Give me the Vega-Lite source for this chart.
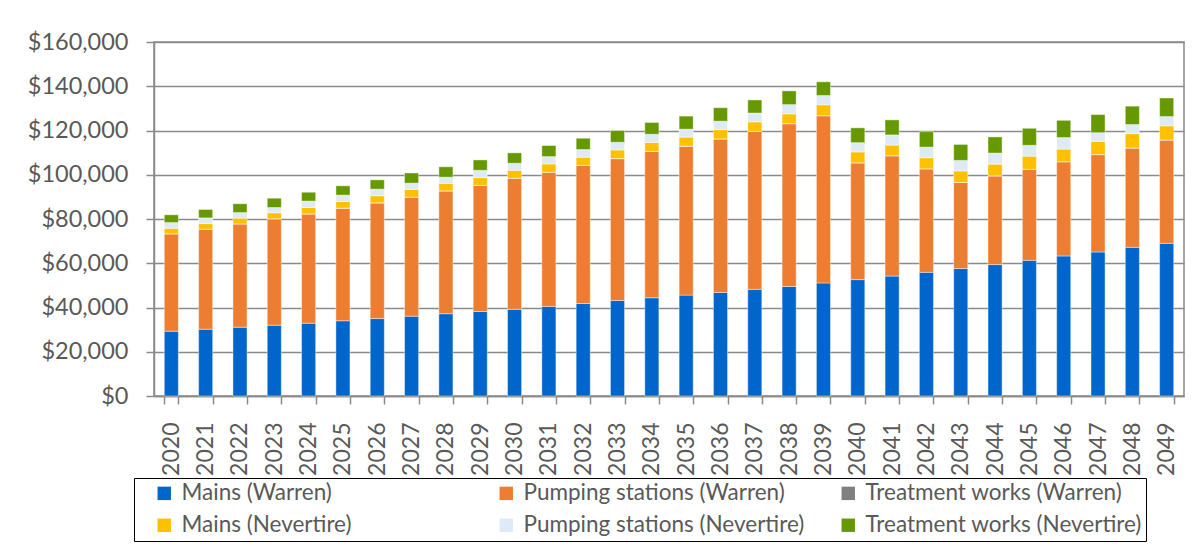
{
  "$schema": "https://vega.github.io/schema/vega-lite/v6.json",
  "width": 1030,
  "height": 354,
  "autosize": {"type": "none"},
  "padding": {"left": 154, "top": 42, "right": 16, "bottom": 150},
  "background": "white",
  "config": {
    "view": {"stroke": "#8a8a8a", "strokeWidth": 1.5},
    "font": "Lato"
  },
  "data": {
    "values": [
      {"year": "2020", "Mains (Warren)": 29300, "Pumping stations (Warren)": 44000, "Treatment works (Warren)": 0, "Mains (Nevertire)": 2500, "Pumping stations (Nevertire)": 2600, "Treatment works (Nevertire)": 3500},
      {"year": "2021", "Mains (Warren)": 30200, "Pumping stations (Warren)": 45200, "Treatment works (Warren)": 0, "Mains (Nevertire)": 2500, "Pumping stations (Nevertire)": 2600, "Treatment works (Nevertire)": 3800},
      {"year": "2022", "Mains (Warren)": 31100, "Pumping stations (Warren)": 46700, "Treatment works (Warren)": 0, "Mains (Nevertire)": 2600, "Pumping stations (Nevertire)": 2500, "Treatment works (Nevertire)": 4000},
      {"year": "2023", "Mains (Warren)": 32000, "Pumping stations (Warren)": 48100, "Treatment works (Warren)": 0, "Mains (Nevertire)": 2700, "Pumping stations (Nevertire)": 2400, "Treatment works (Nevertire)": 4200},
      {"year": "2024", "Mains (Warren)": 32900, "Pumping stations (Warren)": 49400, "Treatment works (Warren)": 0, "Mains (Nevertire)": 2900, "Pumping stations (Nevertire)": 2900, "Treatment works (Nevertire)": 4000},
      {"year": "2025", "Mains (Warren)": 34000, "Pumping stations (Warren)": 50900, "Treatment works (Warren)": 0, "Mains (Nevertire)": 3000, "Pumping stations (Nevertire)": 2900, "Treatment works (Nevertire)": 4200},
      {"year": "2026", "Mains (Warren)": 35000, "Pumping stations (Warren)": 52300, "Treatment works (Warren)": 0, "Mains (Nevertire)": 3200, "Pumping stations (Nevertire)": 3000, "Treatment works (Nevertire)": 4200},
      {"year": "2027", "Mains (Warren)": 36100, "Pumping stations (Warren)": 53800, "Treatment works (Warren)": 0, "Mains (Nevertire)": 3500, "Pumping stations (Nevertire)": 2800, "Treatment works (Nevertire)": 4600},
      {"year": "2028", "Mains (Warren)": 37200, "Pumping stations (Warren)": 55500, "Treatment works (Warren)": 0, "Mains (Nevertire)": 3400, "Pumping stations (Nevertire)": 2800, "Treatment works (Nevertire)": 4700},
      {"year": "2029", "Mains (Warren)": 38200, "Pumping stations (Warren)": 57000, "Treatment works (Warren)": 0, "Mains (Nevertire)": 3500, "Pumping stations (Nevertire)": 3300, "Treatment works (Nevertire)": 4700},
      {"year": "2030", "Mains (Warren)": 39200, "Pumping stations (Warren)": 59200, "Treatment works (Warren)": 0, "Mains (Nevertire)": 3600, "Pumping stations (Nevertire)": 3200, "Treatment works (Nevertire)": 4700},
      {"year": "2031", "Mains (Warren)": 40500, "Pumping stations (Warren)": 60600, "Treatment works (Warren)": 0, "Mains (Nevertire)": 3800, "Pumping stations (Nevertire)": 3300, "Treatment works (Nevertire)": 5000},
      {"year": "2032", "Mains (Warren)": 41800, "Pumping stations (Warren)": 62500, "Treatment works (Warren)": 0, "Mains (Nevertire)": 3600, "Pumping stations (Nevertire)": 3500, "Treatment works (Nevertire)": 5100},
      {"year": "2033", "Mains (Warren)": 43200, "Pumping stations (Warren)": 64100, "Treatment works (Warren)": 0, "Mains (Nevertire)": 3900, "Pumping stations (Nevertire)": 3500, "Treatment works (Nevertire)": 5300},
      {"year": "2034", "Mains (Warren)": 44400, "Pumping stations (Warren)": 66200, "Treatment works (Warren)": 0, "Mains (Nevertire)": 4000, "Pumping stations (Nevertire)": 3700, "Treatment works (Nevertire)": 5300},
      {"year": "2035", "Mains (Warren)": 45600, "Pumping stations (Warren)": 67300, "Treatment works (Warren)": 0, "Mains (Nevertire)": 4100, "Pumping stations (Nevertire)": 3600, "Treatment works (Nevertire)": 5900},
      {"year": "2036", "Mains (Warren)": 46800, "Pumping stations (Warren)": 69400, "Treatment works (Warren)": 0, "Mains (Nevertire)": 4200, "Pumping stations (Nevertire)": 3800, "Treatment works (Nevertire)": 6100},
      {"year": "2037", "Mains (Warren)": 48200, "Pumping stations (Warren)": 71400, "Treatment works (Warren)": 0, "Mains (Nevertire)": 4300, "Pumping stations (Nevertire)": 4000, "Treatment works (Nevertire)": 5900},
      {"year": "2038", "Mains (Warren)": 49500, "Pumping stations (Warren)": 73600, "Treatment works (Warren)": 0, "Mains (Nevertire)": 4400, "Pumping stations (Nevertire)": 4200, "Treatment works (Nevertire)": 6200},
      {"year": "2039", "Mains (Warren)": 51100, "Pumping stations (Warren)": 75600, "Treatment works (Warren)": 0, "Mains (Nevertire)": 4900, "Pumping stations (Nevertire)": 4200, "Treatment works (Nevertire)": 6200},
      {"year": "2040", "Mains (Warren)": 52600, "Pumping stations (Warren)": 52800, "Treatment works (Warren)": 0, "Mains (Nevertire)": 4900, "Pumping stations (Nevertire)": 4200, "Treatment works (Nevertire)": 6700},
      {"year": "2041", "Mains (Warren)": 54200, "Pumping stations (Warren)": 54400, "Treatment works (Warren)": 0, "Mains (Nevertire)": 4800, "Pumping stations (Nevertire)": 4600, "Treatment works (Nevertire)": 6800},
      {"year": "2042", "Mains (Warren)": 55900, "Pumping stations (Warren)": 46800, "Treatment works (Warren)": 0, "Mains (Nevertire)": 5000, "Pumping stations (Nevertire)": 4800, "Treatment works (Nevertire)": 7000},
      {"year": "2043", "Mains (Warren)": 57600, "Pumping stations (Warren)": 38900, "Treatment works (Warren)": 0, "Mains (Nevertire)": 5200, "Pumping stations (Nevertire)": 4800, "Treatment works (Nevertire)": 7200},
      {"year": "2044", "Mains (Warren)": 59400, "Pumping stations (Warren)": 40100, "Treatment works (Warren)": 0, "Mains (Nevertire)": 5300, "Pumping stations (Nevertire)": 5000, "Treatment works (Nevertire)": 7300},
      {"year": "2045", "Mains (Warren)": 61300, "Pumping stations (Warren)": 41200, "Treatment works (Warren)": 0, "Mains (Nevertire)": 5900, "Pumping stations (Nevertire)": 4900, "Treatment works (Nevertire)": 7700},
      {"year": "2046", "Mains (Warren)": 63300, "Pumping stations (Warren)": 42600, "Treatment works (Warren)": 0, "Mains (Nevertire)": 5700, "Pumping stations (Nevertire)": 5200, "Treatment works (Nevertire)": 7800},
      {"year": "2047", "Mains (Warren)": 65100, "Pumping stations (Warren)": 44000, "Treatment works (Warren)": 0, "Mains (Nevertire)": 6000, "Pumping stations (Nevertire)": 3900, "Treatment works (Nevertire)": 8200},
      {"year": "2048", "Mains (Warren)": 67200, "Pumping stations (Warren)": 44900, "Treatment works (Warren)": 0, "Mains (Nevertire)": 6500, "Pumping stations (Nevertire)": 4100, "Treatment works (Nevertire)": 8300},
      {"year": "2049", "Mains (Warren)": 69000, "Pumping stations (Warren)": 46700, "Treatment works (Warren)": 0, "Mains (Nevertire)": 6400, "Pumping stations (Nevertire)": 4200, "Treatment works (Nevertire)": 8400}
    ]
  },
  "transform": [
    {"fold": ["Mains (Warren)", "Pumping stations (Warren)", "Treatment works (Warren)", "Mains (Nevertire)", "Pumping stations (Nevertire)", "Treatment works (Nevertire)"], "as": ["series", "cost"]},
    {"calculate": "indexof(['Mains (Warren)', 'Pumping stations (Warren)', 'Treatment works (Warren)', 'Mains (Nevertire)', 'Pumping stations (Nevertire)', 'Treatment works (Nevertire)'], datum.series)", "as": "stackOrder"}
  ],
  "mark": {"type": "bar", "stroke": "#ffffff", "strokeWidth": 0.6, "strokeOpacity": 0.7},
  "encoding": {
    "x": {
      "field": "year",
      "type": "ordinal",
      "scale": {"paddingInner": 0.59, "paddingOuter": 0.3},
      "axis": {
        "title": null,
        "labelAngle": -90,
        "labelFont": "Lato",
        "labelFontSize": 23,
        "labelColor": "#595959",
        "labelPadding": 18,
        "tickBand": "extent",
        "tickSize": 8,
        "tickColor": "#8a8a8a",
        "tickWidth": 1.5,
        "domainColor": "#8a8a8a",
        "domainWidth": 1.5
      }
    },
    "y": {
      "field": "cost",
      "type": "quantitative",
      "stack": "zero",
      "scale": {"domain": [0, 160000], "nice": false},
      "axis": {
        "title": null,
        "values": [0, 20000, 40000, 60000, 80000, 100000, 120000, 140000, 160000],
        "format": "$,.0f",
        "labelFont": "Lato",
        "labelFontSize": 23.5,
        "labelColor": "#595959",
        "labelPadding": 18,
        "tickSize": 8,
        "tickColor": "#8a8a8a",
        "tickWidth": 1.5,
        "domainColor": "#8a8a8a",
        "domainWidth": 1.5,
        "grid": true,
        "gridColor": "#8a8a8a",
        "gridWidth": 1.4
      }
    },
    "color": {
      "field": "series",
      "type": "nominal",
      "sort": ["Mains (Warren)", "Pumping stations (Warren)", "Treatment works (Warren)", "Mains (Nevertire)", "Pumping stations (Nevertire)", "Treatment works (Nevertire)"],
      "scale": {
        "domain": ["Mains (Warren)", "Pumping stations (Warren)", "Treatment works (Warren)", "Mains (Nevertire)", "Pumping stations (Nevertire)", "Treatment works (Nevertire)"],
        "range": ["#0066CC", "#ED7D31", "#808080", "#FFC000", "#DEEBF7", "#669900"]
      },
      "legend": {
        "title": null,
        "orient": "none",
        "legendX": -20,
        "legendY": 436,
        "direction": "horizontal",
        "columns": 3,
        "gridAlign": "all",
        "columnPadding": 17,
        "rowPadding": 9,
        "padding": 4,
        "symbolOffset": 15,
        "strokeColor": "#000000",
        "symbolType": "square",
        "symbolSize": 180,
        "symbolStrokeWidth": 0,
        "labelFont": "Lato",
        "labelFontSize": 22.5,
        "labelColor": "#595959",
        "labelOffset": 6,
        "labelLimit": 400
      }
    },
    "order": {"field": "stackOrder", "type": "quantitative", "sort": "ascending"}
  }
}
